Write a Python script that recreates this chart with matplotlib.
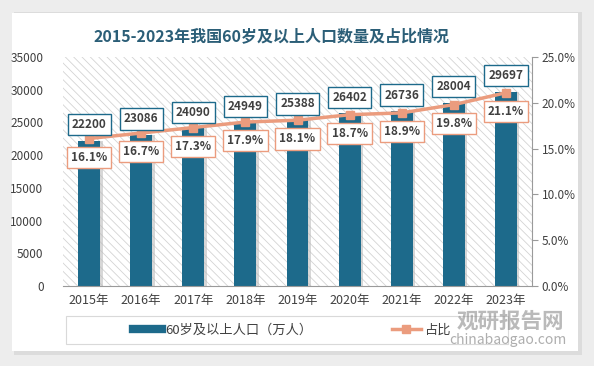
import numpy as np
import matplotlib.pyplot as plt
from matplotlib.patches import Rectangle
from matplotlib.lines import Line2D
from matplotlib.ticker import PercentFormatter

plt.rcParams['font.family'] = ['Noto Sans CJK SC', 'DejaVu Sans']
plt.rcParams['hatch.color'] = '#d3d3d3'
plt.rcParams['hatch.linewidth'] = 0.6

# data
years = ['2015年', '2016年', '2017年', '2018年', '2019年', '2020年', '2021年', '2022年', '2023年']
population = [22200, 23086, 24090, 24949, 25388, 26402, 26736, 28004, 29697]
share = [16.1, 16.7, 17.3, 17.9, 18.1, 18.7, 18.9, 19.8, 21.1]

bar_color = '#1d6a8b'
line_color = '#eb9c7e'
text_color = '#404040'

fig = plt.figure(figsize=(5.94, 3.66), dpi=100, facecolor='#ededed')

# white card with soft shadow
fig.patches.append(Rectangle((14 / 594, 1 - 355 / 366), 568 / 594, 343 / 366,
                             transform=fig.transFigure, facecolor='#dcdcdc', edgecolor='none', zorder=-2))
fig.patches.append(Rectangle((12 / 594, 1 - 351 / 366), 566 / 594, 338 / 366,
                             transform=fig.transFigure, facecolor='white', edgecolor='none', zorder=-1))

ax = fig.add_axes([63 / 594, 1 - 286 / 366, 469 / 594, 229 / 366])
ax.set_facecolor('none')
ax.add_patch(Rectangle((0, 0), 1, 1, transform=ax.transAxes, facecolor='white',
                       edgecolor='#d3d3d3', hatch='\\\\\\\\', linewidth=0, zorder=0))

x = np.arange(len(years))
ax.bar(x + 0.05, population, width=0.42, color='#bdbdbd', alpha=0.6, zorder=1)
ax.bar(x, population, width=0.42, color=bar_color, zorder=2)

ax.set_xlim(-0.5, len(years) - 0.5)
ax.set_ylim(0, 35000)
ax.set_yticks(np.arange(0, 35001, 5000))
ax.set_xticks(x)
ax.set_xticklabels(years)
ax.tick_params(axis='x', length=0, pad=6, labelsize=9, labelcolor=text_color)
ax.tick_params(axis='y', length=0, pad=14, labelsize=8.5, labelcolor=text_color)
for s in ['top', 'left', 'right']:
    ax.spines[s].set_visible(False)
ax.spines['bottom'].set_color('#9a9a9a')

ax2 = ax.twinx()
ax2.plot(x, share, color=line_color, linewidth=2.5, marker='s', markersize=5.5, zorder=3)
ax2.set_ylim(0, 25)
ax2.set_yticks(np.arange(0, 25.1, 5))
ax2.yaxis.set_major_formatter(PercentFormatter(decimals=1))
ax2.tick_params(axis='y', length=4, color='#9a9a9a', labelsize=8.5, labelcolor=text_color, pad=3)
for s in ['top', 'left', 'bottom']:
    ax2.spines[s].set_visible(False)
ax2.spines['right'].set_color('#9a9a9a')

for i in range(len(years)):
    ax2.annotate(str(population[i]), (x[i], population[i] * 25 / 35000), xytext=(0, 11.5),
                 textcoords='offset points', ha='center', va='center', fontsize=8.5,
                 fontweight='bold', color=text_color, zorder=5,
                 bbox=dict(boxstyle='square,pad=0.35', facecolor='white', edgecolor=bar_color, linewidth=1))
    ax2.annotate('%.1f%%' % share[i], (x[i], share[i]), xytext=(0, -13.5),
                 textcoords='offset points', ha='center', va='center', fontsize=8.5,
                 fontweight='bold', color=text_color, zorder=5,
                 bbox=dict(boxstyle='square,pad=0.35', facecolor='white', edgecolor=line_color, linewidth=1))

fig.text(272 / 594, 1 - 36 / 366, '2015-2023年我国60岁及以上人口数量及占比情况', ha='center', va='center',
         fontsize=11.5, fontweight='bold', color='#2b5e77')

# legend
fig.patches.append(Rectangle((66 / 594, 1 - 344 / 366), 442 / 594, 28 / 366,
                             transform=fig.transFigure, facecolor='white', edgecolor='#d9d9d9', linewidth=0.8))
handles = [Line2D([], [], color=bar_color, linewidth=6),
           Line2D([], [], color=line_color, linewidth=2.5, marker='s', markersize=5.5)]
fig.legend(handles, ['60岁及以上人口（万人）', '占比'], loc='center', bbox_to_anchor=(292 / 594, 1 - 330 / 366),
           ncol=2, frameon=False, fontsize=9.5, labelcolor=text_color, columnspacing=6,
           handlelength=2.2, handletextpad=0.3)

# watermark
fig.text(510 / 594, 1 - 321 / 366, '观研报告网', ha='center', va='center', fontsize=15.5,
         fontweight='bold', color='#8c8c8c', alpha=0.6)
fig.text(508 / 594, 1 - 340 / 366, 'chinabaogao.com', ha='center', va='center', fontsize=10,
         color='#8c8c8c', alpha=0.7)

fig.savefig('out.png', dpi=100, facecolor=fig.get_facecolor())
